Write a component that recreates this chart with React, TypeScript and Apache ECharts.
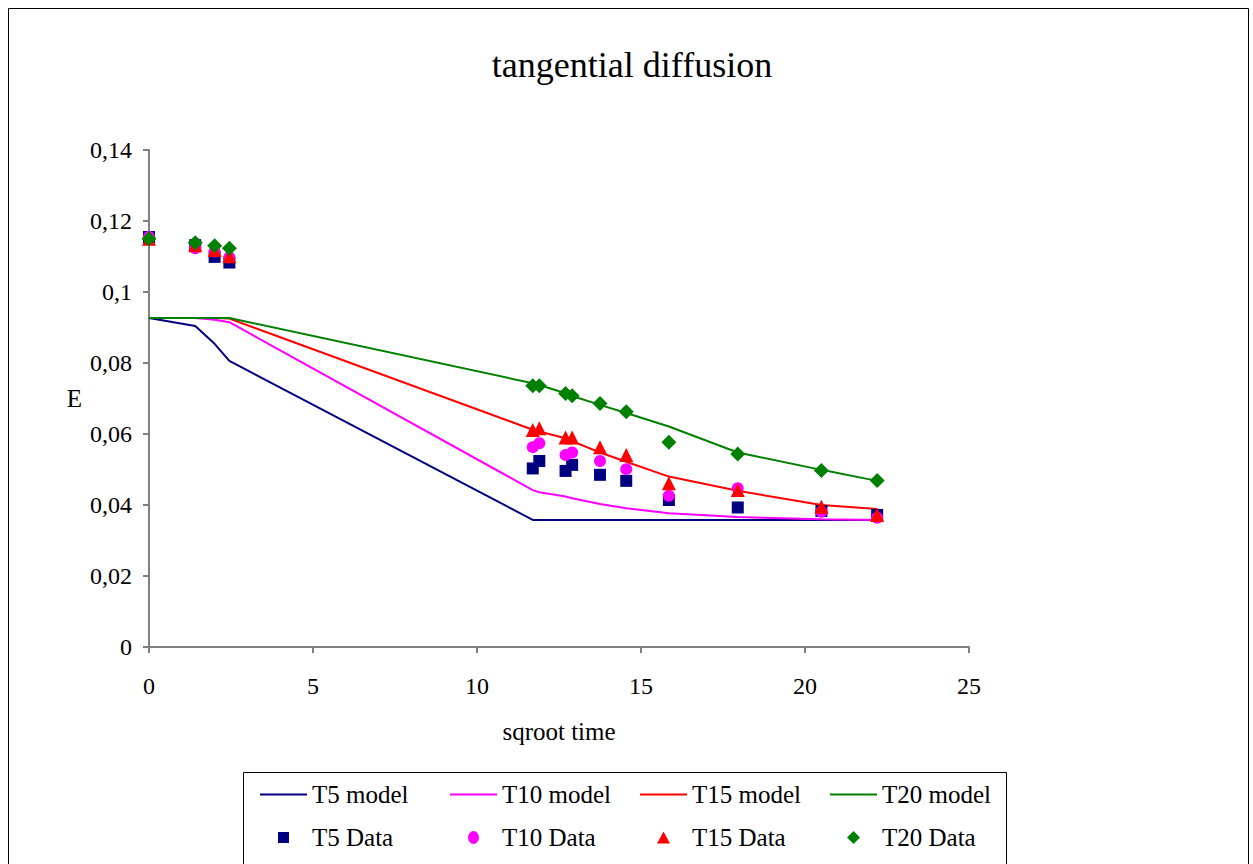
import React, { useEffect, useRef } from "react";
import * as echarts from "echarts";

const xs = [0, 1.41, 2, 2.45, 11.7, 11.9, 12.7, 12.9, 13.75, 14.55, 15.85, 17.95, 20.5, 22.2];

const t5Model = [0.0927, 0.0904, 0.0854, 0.0806, 0.0358, 0.0358, 0.0358, 0.0358, 0.0358, 0.0358, 0.0358, 0.0358, 0.0358, 0.0358];
const t10Model = [0.0927, 0.0927, 0.0922, 0.0915, 0.0442, 0.0436, 0.0424, 0.0419, 0.0403, 0.0391, 0.0377, 0.0366, 0.036, 0.0358];
const t15Model = [0.0927, 0.0927, 0.0927, 0.0925, 0.0612, 0.0607, 0.0588, 0.058, 0.0548, 0.0522, 0.048, 0.044, 0.04, 0.0389];
const t20Model = [0.0927, 0.0927, 0.0927, 0.0927, 0.0743, 0.0738, 0.0715, 0.0707, 0.0682, 0.0659, 0.0621, 0.0548, 0.0499, 0.0468];

const t5Data = [0.1155, 0.1132, 0.1099, 0.1083, 0.0503, 0.0524, 0.0496, 0.0513, 0.0485, 0.0468, 0.0414, 0.0393, 0.0383, 0.0372];
const t10Data = [0.1155, 0.1123, 0.1114, 0.1098, 0.0563, 0.0574, 0.0541, 0.0548, 0.0524, 0.0501, 0.0426, 0.0447, 0.0381, 0.0364];
const t15Data = [0.115, 0.1132, 0.1118, 0.1101, 0.0611, 0.0616, 0.059, 0.059, 0.0563, 0.0541, 0.0461, 0.0442, 0.0395, 0.0372];
const t20Data = [0.115, 0.1139, 0.113, 0.1123, 0.0736, 0.0736, 0.0714, 0.0708, 0.0686, 0.0663, 0.0577, 0.0544, 0.0497, 0.0469];

const modelNames = ["T5 model", "T10 model", "T15 model", "T20 model"];
const dataNames = ["T5 Data", "T10 Data", "T15 Data", "T20 Data"];
const colors = ["#000080", "#FF00FF", "#FF0000", "#008000"];
const symbols = ["rect", "circle", "triangle", "diamond"];
const symbolSizes = [12, 12, 14, 15];

const FONT = "Liberation Serif";
const LINE_ICON = "path://M0,0H48V2H0Z";
// marker shapes padded with zero-length segments so every legend icon spans the full 47px slot
const dataIcons = [
  "path://M0,0H11V11H0Z M-18,5.5L-18,5.5 M29,5.5L29,5.5",
  "path://M0,6.5A5.5,6.5 0 1,0 11,6.5A5.5,6.5 0 1,0 0,6.5Z M-18,6.5L-18,6.5 M29,6.5L29,6.5",
  "path://M6.5,0L13,12H0Z M-17,6L-17,6 M30,6L30,6",
  "path://M6.5,0L13,6.5L6.5,13L0,6.5Z M-17,6.5L-17,6.5 M30,6.5L30,6.5",
];

export default function App() {
  const ref = useRef<HTMLDivElement>(null);
  useEffect(() => {
    if (!ref.current) return;
    const chart = echarts.init(ref.current, null, { renderer: "svg" });
    const models = [t5Model, t10Model, t15Model, t20Model];
    const datas = [t5Data, t10Data, t15Data, t20Data];
    const series: any[] = [];
    models.forEach((m, i) => {
      series.push({
        name: modelNames[i],
        type: "line",
        data: xs.map((x, j) => [x, m[j]]),
        symbol: "none",
        lineStyle: { color: colors[i], width: 2 },
        itemStyle: { color: colors[i] },
        z: 2,
      });
    });
    datas.forEach((d, i) => {
      series.push({
        name: dataNames[i],
        type: "scatter",
        data: xs.map((x, j) => [x, d[j]]),
        symbol: symbols[i],
        symbolSize: symbolSizes[i],
        itemStyle: { color: colors[i], opacity: 1 },
        z: 3,
      });
    });
    const legendData = [
      ...modelNames.map((n, i) => ({ name: n, icon: LINE_ICON, itemStyle: { color: colors[i] } })),
      ...dataNames.map((n, i) => ({ name: n, icon: dataIcons[i], itemStyle: { color: colors[i] } })),
    ];
    chart.setOption({
      animation: false,
      backgroundColor: "#ffffff",
      textStyle: { fontFamily: FONT, color: "#000" },
      title: {
        text: "tangential diffusion",
        left: 627,
        textAlign: "center",
        top: 42,
        textStyle: { fontFamily: FONT, fontSize: 36, fontWeight: "normal", color: "#000" },
      },
      grid: { left: 149, top: 150, width: 820, height: 497 },
      xAxis: {
        type: "value",
        min: 0,
        max: 25,
        interval: 5,
        name: "sqroot time",
        nameLocation: "middle",
        nameGap: 72,
        nameTextStyle: { fontFamily: FONT, fontSize: 25, color: "#000" },
        axisLine: { show: true, onZero: false, lineStyle: { color: "#808080", width: 2 } },
        axisTick: { show: true, length: 6, lineStyle: { color: "#808080", width: 2 } },
        axisLabel: { fontFamily: FONT, fontSize: 24, color: "#000", margin: 27 },
        splitLine: { show: false },
      },
      yAxis: {
        type: "value",
        min: 0,
        max: 0.14,
        interval: 0.02,
        name: "E",
        nameLocation: "middle",
        nameRotate: 0,
        nameGap: 67,
        nameTextStyle: { fontFamily: FONT, fontSize: 25, color: "#000" },
        axisLine: { show: true, lineStyle: { color: "#808080", width: 2 } },
        axisTick: { show: true, length: 6, lineStyle: { color: "#808080", width: 2 } },
        axisLabel: {
          fontFamily: FONT,
          fontSize: 24,
          color: "#000",
          margin: 17,
          formatter: (v: number) => String(+v.toFixed(2)).replace(".", ","),
        },
        splitLine: { show: false },
      },
      legend: {
        left: 260,
        top: 782,
        width: 760,
        padding: 0,
        itemWidth: 47,
        itemHeight: 14,
        itemGap: 18,
        symbolKeepAspect: true,
        data: legendData,
        formatter: (name: string) => "{a|" + name + "}",
        textStyle: {
          fontFamily: FONT,
          fontSize: 25,
          color: "#000",
          rich: { a: { fontFamily: FONT, fontSize: 25, color: "#000", width: 120, lineHeight: 20 } },
        },
      },
      graphic: [
        {
          type: "rect",
          shape: { x: 8.5, y: 8.5, width: 1240, height: 900 },
          style: { fill: "none", stroke: "#000", lineWidth: 1 },
          silent: true,
          z: -1,
        },
        {
          type: "rect",
          shape: { x: 243.5, y: 772.5, width: 763, height: 120 },
          style: { fill: "none", stroke: "#000", lineWidth: 1 },
          silent: true,
          z: -1,
        },
      ],
      series,
    });
    return () => chart.dispose();
  }, []);
  return (
    <div
      ref={ref}
      style={{ position: "fixed", left: 0, top: 0, width: 1253, height: 864 }}
    />
  );
}
